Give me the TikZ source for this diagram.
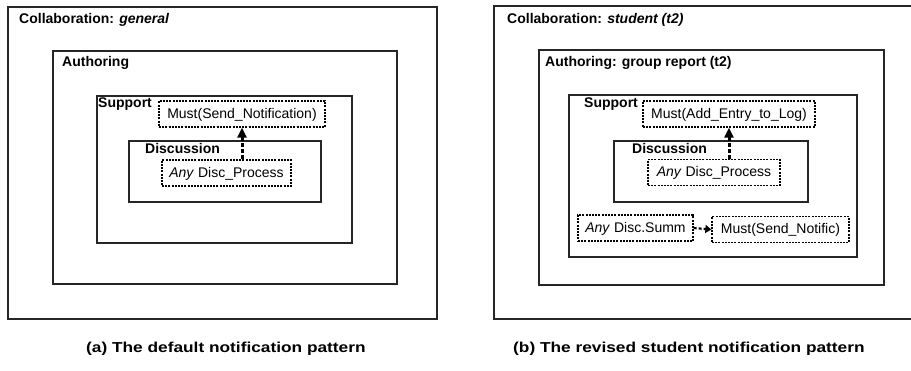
\documentclass[tikz,border=0pt]{standalone}
\usepackage{fontspec}
\setmainfont{Liberation Sans}
\newfontfamily\capfont[FakeStretch=1.2]{Liberation Sans}
\usetikzlibrary{arrows.meta}

\begin{document}
\begin{tikzpicture}[x=1pt,y=-1pt,
  frame/.style={draw=black!85, line width=1.3pt},
  tag/.style={anchor=base west, inner sep=0pt, font=\fontsize{14}{16}\selectfont\bfseries},
  rulebox/.style={draw, line width=1.3pt, dash pattern=on 2pt off 1.2pt, inner sep=0pt,
    text height=10pt, text depth=2pt, minimum height=26pt,
    font=\fontsize{14}{16}\selectfont, anchor=center},
  flow/.style={line width=3pt, dash pattern=on 4pt off 2pt, -{Triangle[width=9pt,length=10pt]}},
  sideflow/.style={line width=2.2pt, dash pattern=on 3pt off 2pt, -{Triangle[width=8pt,length=6pt]}},
  caption/.style={anchor=base west, inner sep=0pt, font=\capfont\fontsize{14.4}{16}\selectfont\bfseries}
]
\useasboundingbox (0,0) rectangle (911,370);

% ---------- (a) default pattern ----------
\draw[frame] (8,7) rectangle (437,319);
\draw[frame] (53,51) rectangle (397,284);
\draw[frame] (97,96) rectangle (352,243);
\draw[frame] (129,141) rectangle (321,202);

\node[tag] (collA) at (19,23) {Collaboration: \textit{general}};
\node[tag] (authA) at (62,66) {Authoring};
\node[tag] (suppA) at (98,107) {Support};
\node[tag] (discA) at (145,153) {Discussion};

\node[rulebox, minimum width=166pt] (mustA) at (242,114) {Must(Send\_Notification)};
\node[rulebox, minimum width=129pt] (anyA) at (226.5,173) {\textit{Any} Disc\_Process};
\draw[flow] (anyA.north -| mustA.south) -- (mustA.south);

% ---------- (b) revised student pattern ----------
\draw[frame] (913,6) -- (494,6) -- (494,319) -- (913,319);
\draw[frame] (539,50) rectangle (884,285);
\draw[frame] (569,95) rectangle (857,257);
\draw[frame] (614,141) rectangle (808,202);

\node[tag] (collB) at (507,23) {Collaboration: \textit{student (t2)}};
\node[tag] (authB) at (545,66) {Authoring: group report (t2)};
\node[tag] (suppB) at (584,107) {Support};
\node[tag] (discB) at (632,153) {Discussion};

\node[rulebox, minimum width=172pt] (mustB) at (729,114) {Must(Add\_Entry\_to\_Log)};
\node[rulebox, minimum width=132pt] (anyB) at (714,172.5) {\textit{Any} Disc\_Process};
\draw[flow] (anyB.north -| mustB.south) -- (mustB.south);

\node[rulebox, minimum width=115pt] (summB) at (635.5,228) {\textit{Any} Disc.Summ};
\node[rulebox, minimum width=137pt] (notifB) at (780.5,229.5) {Must(Send\_Notific)};
\draw[sideflow] (summB.east) -- (notifB.west);

% ---------- captions ----------
\node[caption] (capA) at (86,352) {(a) The default notification pattern};
\node[caption] (capB) at (513,352) {(b) The revised student notification pattern};
\end{tikzpicture}
\end{document}
